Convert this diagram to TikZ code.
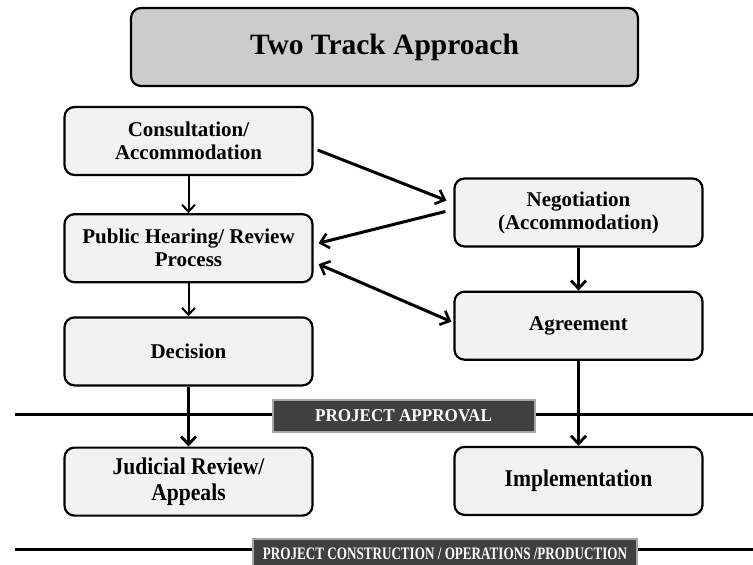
\documentclass[tikz,border=0pt]{standalone}
\usepackage{fontspec}
\setmainfont{Liberation Serif}
\usepackage{tikz}
\usetikzlibrary{positioning, arrows.meta}

\definecolor{boxfill}{HTML}{F2F2F2}
\definecolor{titlefill}{HTML}{CCCCCC}
\definecolor{barfill}{HTML}{404040}
\definecolor{baredge}{HTML}{A6A6A6}

\tikzset{
	track/.style={draw, line width=2.2pt, rounded corners=10pt, fill=boxfill,
		minimum width=248pt, minimum height=68pt, align=center,
		font=\fontsize{21}{23}\selectfont\bfseries},
	narrow/.style={track, font=\fontsize{24}{26}\selectfont\bfseries},
	bar/.style={draw=baredge, line width=2pt, fill=barfill, text=white, inner sep=2pt},
	barb/.tip={Straight Barb[length=8pt,width=15pt,line width=2.6pt]},
	thin/.style={-{Straight Barb[length=7pt,width=13pt,line width=2pt]}, line width=2pt},
	thick/.style={-{Straight Barb[length=8pt,width=15pt,line width=2.8pt]}, line width=3.6pt},
	slant/.style={-barb, line width=3pt},
	twoway/.style={barb-barb, line width=3pt},
}

\begin{document}
\begin{tikzpicture}[x=1pt, y=1pt, node distance=35pt]
	\useasboundingbox (0,0) rectangle (753,-565);

	% approval and construction lines
	\draw[line width=3pt] (15,-414) -- (753,-414);
	\draw[line width=3pt] (15,-549) -- (753,-549);

	\node[draw, line width=2.2pt, rounded corners=10pt, fill=titlefill,
		minimum width=507pt, minimum height=78pt,
		font=\fontsize{29.5}{32}\selectfont\bfseries] (title) at (384.5,-47) {Two Track Approach};

	% left track
	\node[track]                  (cons) at (188.5,-141) {Consultation/\\Accommodation};
	\node[track, below=37pt of cons] (pub)  {Public Hearing/ Review\\Process};
	\node[track, below=33pt of pub]  (dec)  {Decision};
	\node[narrow, below=60pt of dec] (jud) {\scalebox{0.9}[1]{Judicial Review/}\\\scalebox{0.9}[1]{Appeals}};

	% right track
	\node[track]                  (neg) at (578.5,-212.5) {Negotiation\\(Accommodation)};
	\node[track, below=43pt of neg]  (agr)  {Agreement};
	\node[narrow, below=85pt of agr] (impl) {\scalebox{0.9}[1]{Implementation}};

	\node[bar, minimum width=262pt, minimum height=32pt,
		font=\fontsize{18}{20}\selectfont\bfseries] (approval) at (403.5,-415.5)
		{\scalebox{0.95}[1]{PROJECT APPROVAL}};
	\node[bar, minimum width=384pt, minimum height=30pt, anchor=north,
		font=\fontsize{17.5}{19}\selectfont\bfseries] (prod) at (445,-538)
		{\scalebox{0.75}[1]{PROJECT CONSTRUCTION / OPERATIONS /PRODUCTION}};

	\draw[thin] (cons) -- (pub);
	\draw[thin] (pub) -- (dec);
	\draw[thick] (dec) -- (jud);
	\draw[thick] (neg) -- (agr);
	\draw[thick] (agr) -- (impl);

	\draw[slant] ([shift={(4,-9)}]cons.east) -- ([shift={(-7,12)}]neg.west);
	\draw[slant] ([shift={(-8,1)}]neg.west) -- ([shift={(5,5)}]pub.east);
	\draw[twoway] ([shift={(5,-16)}]pub.east) -- ([shift={(-2,4)}]agr.west);
\end{tikzpicture}
\end{document}
